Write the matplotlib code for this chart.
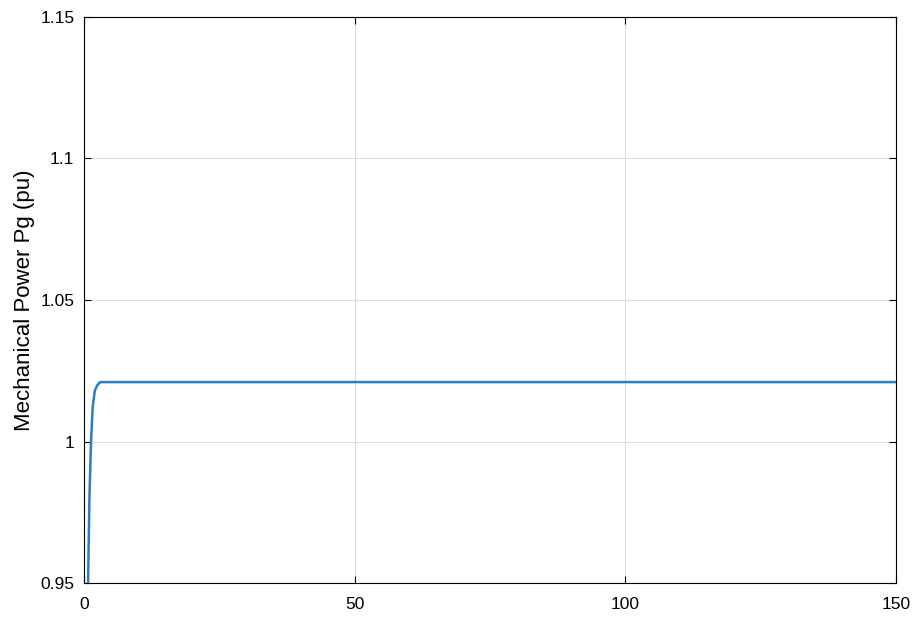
import numpy as np
import matplotlib
matplotlib.use('Agg')
import matplotlib.pyplot as plt

plt.rcParams['font.family'] = ['Liberation Sans', 'DejaVu Sans']

# simulated response read at a few instants (s, pu)
time = [0.0, 0.5, 0.75, 1.0, 1.3, 1.6, 2.0, 2.5, 3.0, 150.0]
pg = [0.80, 0.90, 0.95, 0.98, 1.000, 1.012, 1.018, 1.020, 1.021, 1.021]

xticks = [0, 50, 100, 150]
yticks = [0.95, 1.0, 1.05, 1.1, 1.15]
yticklabels = ['0.95', '1', '1.05', '1.1', '1.15']

fig = plt.figure(figsize=(9.18, 6.17), dpi=100)
ax = fig.add_axes([84 / 918, 1 - 583 / 617, (896 - 84) / 918, (583 - 17) / 617])

ax.plot(time, pg, color='#2a7dc6', linewidth=1.8)

ax.set_xlim(0, 150)
ax.set_ylim(0.95, 1.15)
ax.set_xticks(xticks)
ax.set_yticks(yticks)
ax.set_yticklabels(yticklabels)
ax.grid(True, color='#dcdcdc', linewidth=0.8)
ax.set_axisbelow(True)
ax.tick_params(direction='in', length=5, labelsize=12.5, top=True, right=True,
               width=0.8)
ax.tick_params(axis='x', pad=10)
ax.tick_params(axis='y', pad=7)
for s in ax.spines.values():
    s.set_linewidth(0.8)
ax.set_ylabel('Mechanical Power Pg (pu)', fontsize=16, labelpad=4)

fig.savefig('out.png', dpi=100)
